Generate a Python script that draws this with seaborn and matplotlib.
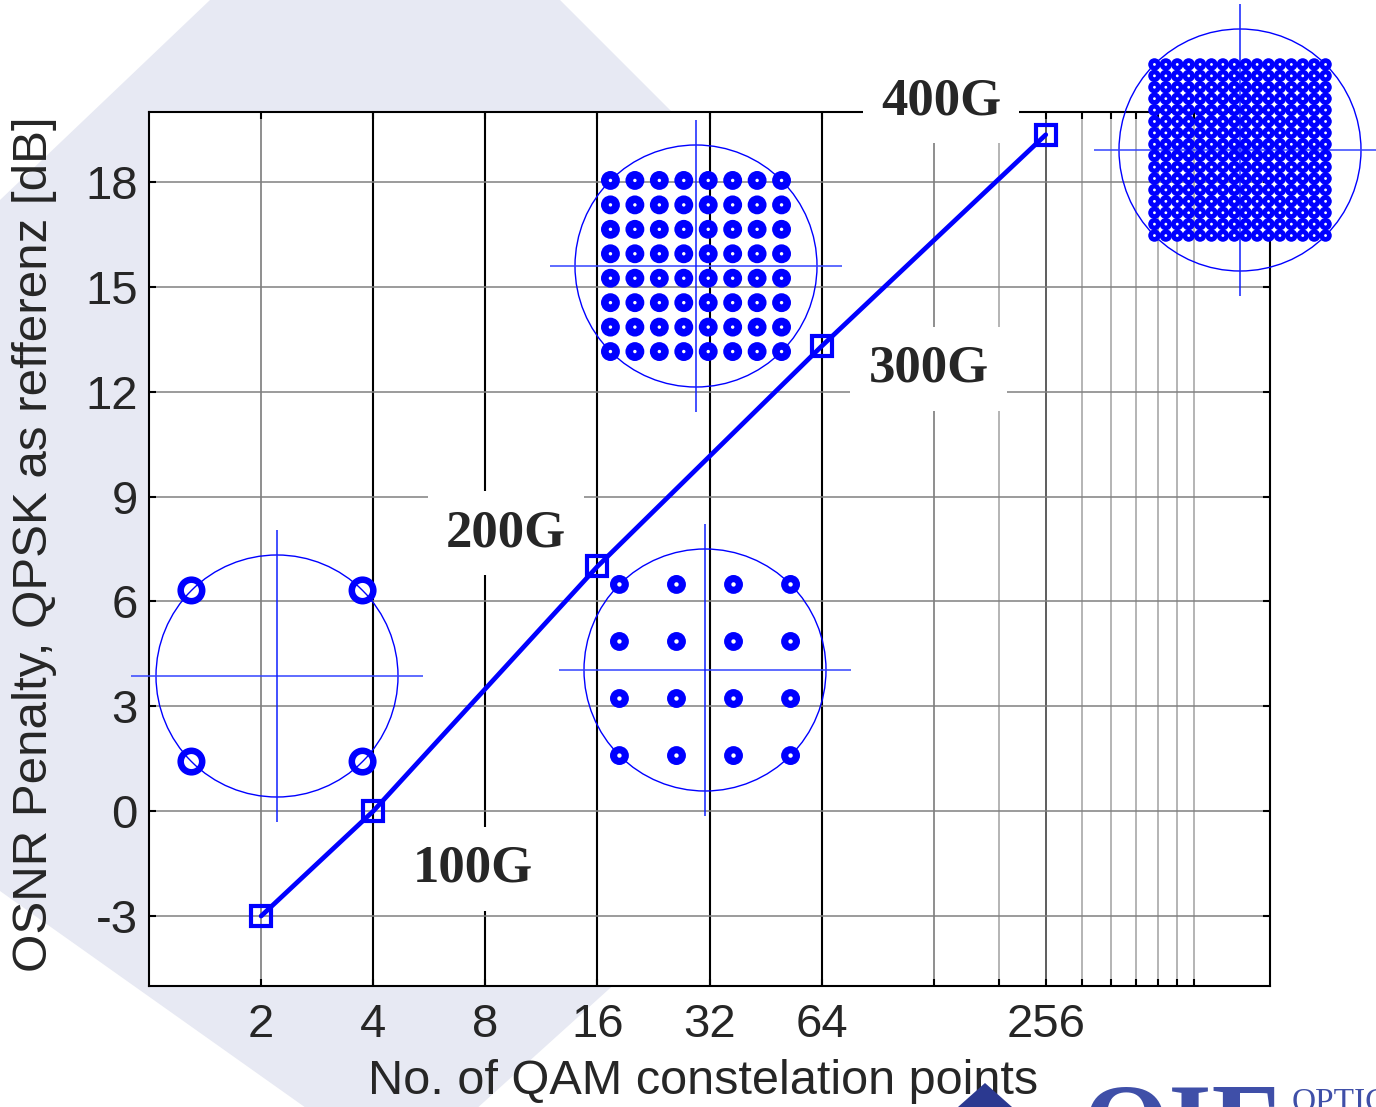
import numpy as np
import pandas as pd
import matplotlib
matplotlib.use("Agg")
import matplotlib.pyplot as plt
from matplotlib.patches import Circle, Polygon
from matplotlib.ticker import FixedLocator, FixedFormatter, NullFormatter
import seaborn as sns

# values
qam_points = [2, 4, 16, 64, 256]
osnr_penalty = [-3.0, 0.0, 7.0, 13.3, 19.35]

rate_labels = ["100G", "200G", "300G", "400G"]
rate_x = [7.4, 9.1, 124, 134]
rate_y = [-1.65, 7.95, 12.65, 20.3]

x_ticks = [2, 4, 8, 16, 32, 64, 128, 256]
x_ticklabels = ["2", "4", "8", "16", "32", "64", "", "256"]
x_minor = [192, 320, 384, 448, 512, 576, 640]
y_ticks = [-3, 0, 3, 6, 9, 12, 15, 18]

# I/Q amplitude levels of the constellations
qpsk_levels = [-1, 1]
qam16_levels = [-3, -1, 1, 3]
qam64_levels = [-7, -5, -3, -1, 1, 3, 5, 7]
qam256_levels = [-15, -13, -11, -9, -7, -5, -3, -1, 1, 3, 5, 7, 9, 11, 13, 15]

W, H = 1376, 1107
BLUE = "#0000ff"
LAVENDER = "#e7e9f3"

sns.set_style("ticks")
plt.rcParams["font.family"] = ["Liberation Sans", "DejaVu Sans"]
plt.rcParams["axes.unicode_minus"] = False

fig = plt.figure(figsize=(W / 100, H / 100), dpi=100)
fig.patch.set_facecolor("white")

# slide watermark behind the chart
watermark = [(210, 0), (560, 0), (1103, 543), (402, 1176), (0, 891), (0, 200)]
fig.add_artist(Polygon([(x / W, 1 - y / H) for x, y in watermark], closed=True,
                       transform=fig.transFigure, facecolor=LAVENDER,
                       edgecolor="none", zorder=-5))

ax = fig.add_axes([149 / W, 1 - 986 / H, (1270 - 149) / W, (986 - 112) / H])
ax.set_facecolor("white")

sns.lineplot(x=qam_points, y=osnr_penalty, ax=ax, color=BLUE, lw=3.4,
             marker="s", markersize=15, markerfacecolor="none",
             markeredgecolor=BLUE, markeredgewidth=3.0, zorder=4)

ax.set_xscale("log", base=2)
ax.set_xlim(1, 1024)
ax.set_ylim(-5, 20)
ax.xaxis.set_major_locator(FixedLocator(x_ticks))
ax.xaxis.set_major_formatter(FixedFormatter(x_ticklabels))
ax.xaxis.set_minor_locator(FixedLocator(x_minor))
ax.xaxis.set_minor_formatter(NullFormatter())
ax.set_yticks(y_ticks)
ax.set_yticklabels([str(v) for v in y_ticks])

ax.tick_params(which="both", direction="in", top=True, right=True,
               length=5, width=1.5, labelsize=34, color="black")
ax.tick_params(axis="x", pad=12)
ax.tick_params(axis="y", pad=8)

# MATLAB-like grid
ax.yaxis.grid(True, color="#808080", lw=1.1)
ax.xaxis.grid(True, which="major", color="black", lw=1.5)
ax.xaxis.grid(True, which="minor", color="#a8a8a8", lw=1.2)
for t, v in zip(ax.xaxis.get_major_ticks(), x_ticks):
    if v in (2, 128):
        t.gridline.set_color("#707070")
        t.gridline.set_linewidth(1.1)
    elif v == 256:
        t.gridline.set_color("#505050")
        t.gridline.set_linewidth(1.3)
for s in ax.spines.values():
    s.set_color("black")
    s.set_linewidth(1.5)

ax.set_xlabel("No. of QAM constelation points", fontsize=35)
ax.set_ylabel("OSNR Penalty, QPSK as refferenz [dB]", fontsize=35.5)
ax.xaxis.set_label_coords(0.494, -0.084)
ax.yaxis.set_label_coords(-0.082, 0.505)

for lab, x, y in zip(rate_labels, rate_x, rate_y):
    ax.text(x, y, lab, ha="center", va="center", fontsize=38,
            fontfamily="Liberation Serif", fontweight="bold", zorder=6,
            clip_on=False,
            bbox=dict(facecolor="white", edgecolor="none", pad=13))


def add_constellation(cx, cy, levels, dot, hole, ring=None):
    half = 146
    iax = fig.add_axes([(cx - half) / W, 1 - (cy + half) / H,
                        2 * half / W, 2 * half / H])
    iax.set_axis_off()
    iax.patch.set_alpha(0)
    lim = half / 121
    iax.set_xlim(-lim, lim)
    iax.set_ylim(-lim, lim)
    lv = np.array(levels, dtype=float) / max(levels) * np.sqrt(0.5)
    ii, qq = np.meshgrid(lv, lv)
    pts = pd.DataFrame({"I": ii.ravel(), "Q": qq.ravel()})
    iax.add_patch(Circle((0, 0), 1, fill=False, edgecolor=BLUE, lw=1.0))
    iax.plot([-lim, lim], [0, 0], color="#3344ff", lw=1.1)
    iax.plot([0, 0], [-lim, lim], color="#1020ff", lw=1.1)
    if ring is not None:
        # open rings (QPSK)
        iax.scatter(pts["I"], pts["Q"], s=dot, facecolors="none",
                    edgecolors=BLUE, linewidths=ring, zorder=3)
    else:
        sns.scatterplot(data=pts, x="I", y="Q", ax=iax, marker="o", s=dot,
                        color=BLUE, edgecolor="none", linewidth=0,
                        legend=False, zorder=3)
        sns.scatterplot(data=pts, x="I", y="Q", ax=iax, marker="o", s=hole,
                        color="white", edgecolor="none", linewidth=0,
                        legend=False, zorder=4)
    iax.set_xlabel("")
    iax.set_ylabel("")
    return iax


add_constellation(277, 676, qpsk_levels, 240, 0, ring=4.7)
add_constellation(705, 670, qam16_levels, 185, 10)
add_constellation(696, 266, qam64_levels, 185, 6)
add_constellation(1240, 150, qam256_levels, 80, 4)

# slide logo remnants at the bottom edge
fig.add_artist(Polygon([(985 / W, 1 - 1083 / H), (958 / W, 0), (1012 / W, 0)],
                       closed=True, transform=fig.transFigure,
                       facecolor="#2b3990", edgecolor="none"))
fig.text(1083 / W, 1 - 1160 / H, "OIF", fontsize=80,
         fontfamily="Liberation Serif", fontweight="bold", color="#3f4fa8",
         ha="left", va="baseline")
fig.text(1292 / W, 1 - 1111 / H, "OPTICAL", fontsize=24,
         fontfamily="Liberation Serif", color="#3f4fa8",
         ha="left", va="baseline")

fig.savefig("out.png", dpi=100, facecolor=fig.get_facecolor())
